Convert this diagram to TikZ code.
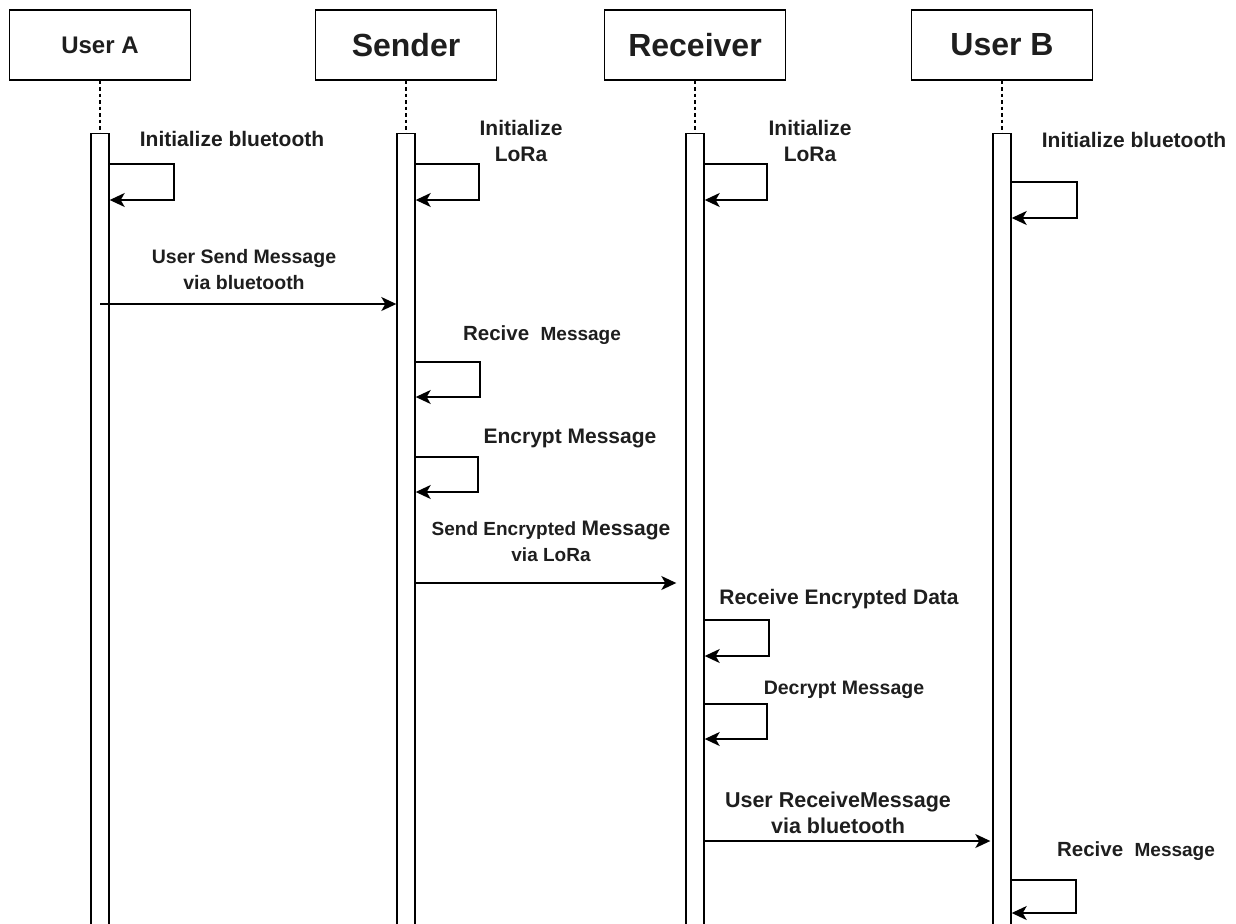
\documentclass[tikz,border=0pt]{standalone}
\usepackage{fontspec}
\setmainfont{Liberation Sans}
\usetikzlibrary{arrows.meta}
\definecolor{ink}{HTML}{1E1E1E}
\newcommand{\fs}[1]{\fontsize{#1}{26}\selectfont}
\begin{document}
\begin{tikzpicture}[x=1pt,y=-1pt,
  head/.style={draw=black, line width=1.4pt, minimum width=181pt, minimum height=70pt,
               inner sep=0pt, text=ink},
  bar/.style={draw=black, line width=1.4pt, fill=white, minimum width=18pt,
              minimum height=810pt, anchor=north, inner sep=0pt},
  life/.style={draw=black, line width=1.2pt, dash pattern=on 3.5pt off 3pt},
  msg/.style={draw=black, line width=1.5pt, -{Stealth[length=15pt,width=14pt,inset=4pt]}},
  lbl/.style={align=center, text=ink, inner sep=0pt},
  sz/.style={font=\bfseries\fontsize{#1}{26}\selectfont}
]
\useasboundingbox (0,0) rectangle (1236,923);
\clip (0,0) rectangle (1236,923);

% participants
\node[head, sz=24] (hA) at (100,45)  {User A};
\node[head, sz=32] (hS) at (406,45)  {Sender};
\node[head, sz=32] (hR) at (695,45)  {Receiver};
\node[head, sz=32] (hB) at (1002,45) {User B};

% activation bars
\node[bar] (bA) at (100,133)  {};
\node[bar] (bS) at (406,133)  {};
\node[bar] (bR) at (695,133)  {};
\node[bar] (bB) at (1002,133) {};

% lifelines
\draw[life] (hA) -- (bA);
\draw[life] (hS) -- (bS);
\draw[life] (hR) -- (bR);
\draw[life] (hB) -- (bB);

% start-up self calls
\draw[msg] (bA.east |- 0,164) -- (174,164) -- (174,200) -- (bA.east |- 0,200);
\node[lbl, sz=21] (tA1) at (232,139) {Initialize bluetooth};

\draw[msg] (bS.east |- 0,164) -- (479,164) -- (479,200) -- (bS.east |- 0,200);
\node[lbl, sz=21] (tS1) at (521,141) {Initialize\\LoRa};

\draw[msg] (bR.east |- 0,164) -- (767,164) -- (767,200) -- (bR.east |- 0,200);
\node[lbl, sz=21] (tR1) at (810,141) {Initialize\\LoRa};

\draw[msg] (bB.east |- 0,182) -- (1077,182) -- (1077,218) -- (bB.east |- 0,218);
\node[lbl, sz=21] (tB1) at (1134,140) {Initialize bluetooth};

% user A -> sender
\draw[msg] (bA |- 0,304) -- (bS.west |- 0,304);
\node[lbl, sz=19.5] (tA2) at (244,270) {User Send Message\\via bluetooth};

% sender processing
\draw[msg] (bS.east |- 0,362) -- (480,362) -- (480,397) -- (bS.east |- 0,397);
\node[lbl, sz=20.5] (tS2) at (542,335) {Recive\ \ \fs{19}Message};

\draw[msg] (bS.east |- 0,457) -- (478,457) -- (478,492) -- (bS.east |- 0,492);
\node[lbl, sz=21] (tS3) at (570,438) {Encrypt Message};

% sender -> receiver
\draw[msg, shorten >=9pt] (bS.east |- 0,583) -- (bR.west |- 0,583);
\node[lbl, sz=19] (tS4) at (551,541) {Send Encrypted \fs{21}Message\\via LoRa};

% receiver processing
\draw[msg] (bR.east |- 0,620) -- (769,620) -- (769,656) -- (bR.east |- 0,656);
\node[lbl, sz=21] (tR2) at (839,599) {Receive Encrypted Data};

\draw[msg] (bR.east |- 0,704) -- (767,704) -- (767,739) -- (bR.east |- 0,739);
\node[lbl, sz=19.5] (tR3) at (844,690) {Decrypt Message};

% receiver -> user B
\draw[msg, shorten >=2pt] (bR.east |- 0,841) -- (bB.west |- 0,841);
\node[lbl, sz=21.5] (tR4) at (838,813) {User ReceiveMessage\\via bluetooth};

% user B receives
\draw[msg] (bB.east |- 0,880) -- (1076,880) -- (1076,913) -- (bB.east |- 0,913);
\node[lbl, sz=20.5] (tB2) at (1136,851) {Recive\ \ \fs{19}Message};

\end{tikzpicture}
\end{document}
